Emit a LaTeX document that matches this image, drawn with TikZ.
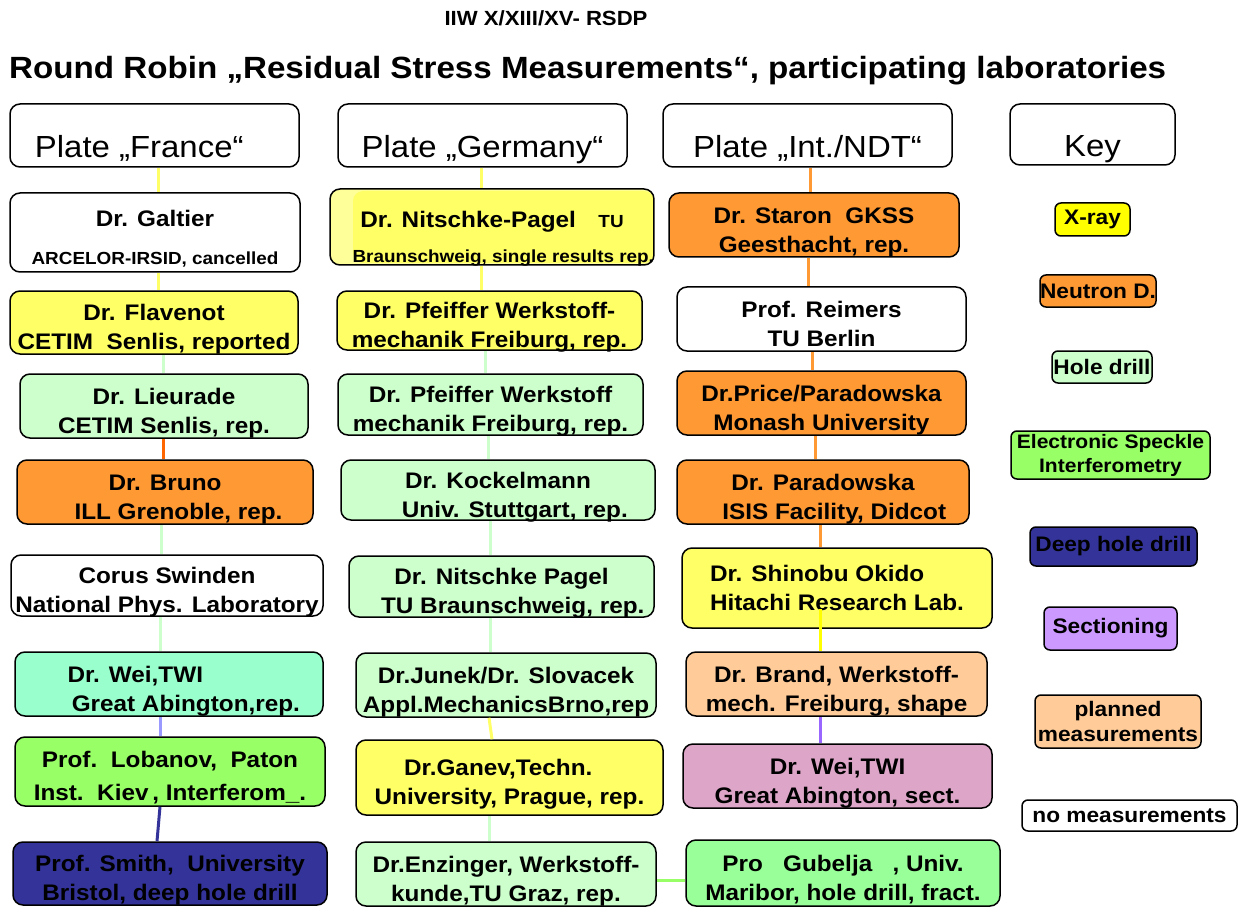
\documentclass[tikz,border=0pt]{standalone}
\usepackage{fontspec}
\setmainfont{Liberation Sans}[FakeStretch=1.08]
\definecolor{cyel}{HTML}{FFFF66}
\definecolor{cxray}{HTML}{FFFF00}
\definecolor{corange}{HTML}{FF9933}
\definecolor{cred}{HTML}{FF6600}
\definecolor{clgreen}{HTML}{CCFFCC}
\definecolor{caqua}{HTML}{99FFCC}
\definecolor{cespi}{HTML}{99FF66}
\definecolor{cdblue}{HTML}{333399}
\definecolor{cpeach}{HTML}{FFCC99}
\definecolor{cgreen}{HTML}{99FF99}
\definecolor{cpurple}{HTML}{CC99FF}
\definecolor{cpink}{HTML}{DDA6C8}
\definecolor{clblue}{HTML}{9999FF}
\definecolor{cviolet}{HTML}{9966FF}
\definecolor{clyel}{HTML}{FFFF99}
\newcommand\sm{\fontsize{17.5}{21}\selectfont}
% lowered multi-line text block: #1 = drop, #2 = column type, #3 = lines
\newcommand\lowtext[3]{\raisebox{-#1}[\height][\depth]{\begin{tabular}{@{}#2@{}}#3\end{tabular}}}
\tikzset{
  box/.style={draw=black, line width=1.5pt, rounded corners=10pt, inner sep=0pt,
    font=\bfseries\fontsize{22.5}{29}\selectfont},
  hdr/.style={draw=black, line width=1.5pt, rounded corners=10pt, inner sep=0pt,
    font=\fontsize{30.5}{34}\selectfont},
  keybox/.style={draw=black, line width=1.5pt, rounded corners=6pt, inner sep=0pt, align=center,
    font=\bfseries\fontsize{21}{27}\selectfont},
  link/.style={line width=3pt},
}
\newcommand\bx[7]{\node[box, fill=#6, minimum width={#4-#2}, minimum height={#5-#3}] (#1) at ({(#2+#4)/2},{(#3+#5)/2}) {\lowtext{7pt}{c}{#7}};}
\newcommand\kx[7]{\node[keybox, fill=#6, minimum width={#4-#2}, minimum height={#5-#3}] (#1) at ({(#2+#4)/2},{(#3+#5)/2}) {#7};}
\begin{document}
\begin{tikzpicture}[x=1pt,y=-1pt]
\useasboundingbox[fill=white] (0,0) rectangle (1247,909);
% titles
\node[font=\bfseries\fontsize{20.5}{24}\selectfont] (t1) at (546,18) {IIW X/XIII/XV- RSDP};
\node[font=\bfseries\fontsize{30.7}{36}\selectfont, anchor=west, inner sep=0pt] (t2) at (9,71) {Round Robin „Residual Stress Measurements“, participating laboratories};
% headers
\node[hdr, minimum width=289, minimum height=63] (hF) at (154.5,135.5) {\raisebox{-22pt}[0pt][0pt]{\hspace*{-1em}Plate „France“}};
\node[hdr, minimum width=289, minimum height=63] (hG) at (482.5,135.5) {\raisebox{-22pt}[0pt][0pt]{Plate „Germany“}};
\node[hdr, minimum width=289, minimum height=63] (hN) at (807.5,135.5) {\raisebox{-22pt}[0pt][0pt]{Plate „Int./NDT“}};
\node[hdr, minimum width=165, minimum height=61] (hK) at (1092.5,134.5) {\raisebox{-22pt}[0pt][0pt]{Key}};
% column France
\bx{galtier}{10}{193}{300}{272}{white}{Dr. Galtier\\[9pt]{\sm ARCELOR-IRSID, cancelled}}
\bx{flav}{10}{291}{298}{354}{cyel}{Dr. Flavenot\\CETIM~~Senlis, reported}
\bx{lieur}{20}{374}{308}{438}{clgreen}{Dr. Lieurade\\CETIM Senlis, rep.}
\bx{bruno}{17}{460}{313}{524}{corange}{Dr. Bruno\\\hspace*{1.2em}ILL Grenoble, rep.}
\bx{corus}{11}{555}{323}{616}{white}{Corus Swinden\\National Phys. Laboratory}
\bx{weiF}{15}{652}{323}{716}{caqua}{Dr. Wei,TWI\hspace*{3em}\\\hspace*{1.5em}Great Abington,rep.}
\bx{lob}{15}{737}{325}{806}{cespi}{Prof.~~Lobanov,~~Paton\\[4pt]Inst.~~Kiev\,, Interferom\_.}
\bx{smith}{13}{842}{327}{905}{cdblue}{Prof. Smith,~~University\\Bristol, deep hole drill}
% column Germany
\node[box, minimum width=320, minimum height=76, fill=clyel,
  path picture={\fill[cyel] ([xshift=23pt,yshift=2pt]path picture bounding box.south west) rectangle ([yshift=-2pt]path picture bounding box.north east);}]
  (nitA) at (492,227) {\lowtext{12pt}{c}{Dr. Nitschke-Pagel\quad{\sm TU}\\[6pt]\hspace*{1em}{\sm Braunschweig, single results rep.}}};
\bx{pfA}{337}{291}{642}{350}{cyel}{Dr. Pfeiffer Werkstoff-\\mechanik Freiburg,~rep.}
\bx{pfB}{338}{374}{643}{435}{clgreen}{Dr. Pfeiffer Werkstoff\\mechanik Freiburg,~rep.}
\bx{kock}{341}{460}{655}{520}{clgreen}{Dr. Kockelmann\\\hspace*{1.5em}Univ. Stuttgart, rep.}
\bx{nitB}{349}{556}{654}{617}{clgreen}{Dr. Nitschke Pagel\\\hspace*{1em}TU Braunschweig, rep.}
\bx{junek}{356}{653}{656}{717}{clgreen}{Dr.Junek/Dr. Slovacek\\Appl.MechanicsBrno,rep}
\bx{ganev}{356}{740}{663}{815}{cyel}{Dr.Ganev,Techn.\hspace*{1em}\\University, Prague, rep.}
\bx{enz}{356}{842}{656}{906}{clgreen}{Dr.Enzinger, Werkstoff-\\kunde,TU Graz, rep.}
% column Int./NDT
\bx{staron}{669}{193}{959}{257}{corange}{Dr. Staron~~GKSS\\Geesthacht, rep.}
\bx{reimers}{677}{287}{966}{351}{white}{Prof. Reimers\\TU Berlin}
\bx{price}{677}{371}{966}{435}{corange}{Dr.Price/Paradowska\\Monash University}
\bx{parad}{677}{460}{969}{524}{corange}{Dr. Paradowska\\\hspace*{1em}ISIS Facility, Didcot}
\node[box, fill=cyel, minimum width=310, minimum height=80] (okido) at (837,588) {\lowtext{2pt}{l}{Dr. Shinobu Okido\\Hitachi Research Lab.}};
\bx{brand}{686}{652}{987}{716}{cpeach}{Dr. Brand, Werkstoff-\\mech. Freiburg, shape}
\bx{weiN}{683}{744}{992}{808}{cpink}{Dr. Wei,TWI\\Great Abington, sect.}
\bx{gub}{686}{840}{1000}{906}{cgreen}{Pro~~~Gubelja~~~, Univ.\\Maribor, hole drill, fract.}
% key
\kx{kxr}{1055}{203}{1130}{236}{cxray}{X-ray}
\kx{kne}{1040}{275}{1156}{307}{corange}{Neutron D.}
\kx{kho}{1052}{351}{1152}{383}{clgreen}{Hole drill}
\node[keybox, fill=cespi, minimum width=199, minimum height=48, font=\bfseries\fontsize{19.5}{24}\selectfont] (kes) at (1110.5,455) {Electronic Speckle\\Interferometry};
\kx{kdh}{1030}{527}{1197}{566}{cdblue}{Deep hole drill}
\kx{kse}{1044}{607}{1177}{650}{cpurple}{Sectioning}
\node[keybox, fill=cpeach, minimum width=166, minimum height=53, font=\bfseries\fontsize{21}{25}\selectfont] (kpl) at (1118,721.5) {planned\\measurements};
\kx{kno}{1022}{800}{1237}{831}{white}{no measurements}
% connectors France
\draw[link, cyel] (hF.south -| 158,0) -- (galtier.north -| 158,0);
\draw[link, cyel] (galtier.south -| 158,0) -- (flav.north -| 158,0);
\draw[link, clgreen] (flav.south -| 163,0) -- (lieur.north -| 163,0);
\draw[link, cred] (lieur.south -| 163,0) -- (bruno.north -| 163,0);
\draw[link, clgreen] (bruno.south -| 161,0) -- (corus.north -| 161,0);
\draw[link, clgreen] (corus.south -| 160,0) -- (weiF.north -| 160,0);
\draw[link, clblue] (weiF.south -| 160,0) -- (lob.north -| 160,0);
\draw[link, cdblue] (lob.south -| 160,0) -- (smith.north -| 157,0);
% connectors Germany
\draw[link, cyel] (hG.south -| 481,0) -- (nitA.north -| 481,0);
\draw[link, cyel] (nitA.south -| 481,0) -- (pfA.north -| 481,0);
\draw[link, clgreen] (pfA.south -| 485,0) -- (pfB.north -| 485,0);
\draw[link, clgreen] (pfB.south -| 488,0) -- (kock.north -| 488,0);
\draw[link, clgreen] (kock.south -| 490,0) -- (nitB.north -| 490,0);
\draw[link, clgreen] (nitB.south -| 490,0) -- (junek.north -| 490,0);
\draw[link, cyel] (junek.south -| 489,0) -- (ganev.north -| 492,0);
\draw[link, clgreen] (ganev.south -| 489,0) -- (enz.north -| 489,0);
\draw[link, cespi] (enz.east |- 0,880) -- (gub.west |- 0,880);
% connectors Int./NDT
\draw[link, corange] (hN.south -| 810,0) -- (staron.north -| 810,0);
\draw[link, corange] (staron.south -| 808,0) -- (reimers.north -| 808,0);
\draw[link, corange] (reimers.south -| 812,0) -- (price.north -| 812,0);
\draw[link, corange] (price.south -| 815,0) -- (parad.north -| 815,0);
\draw[link, corange] (parad.south -| 820,0) -- (okido.north -| 820,0);
\draw[link, cxray] ([yshift=20pt]okido.south -| 820,0) -- (brand.north -| 820,0);
\draw[link, cviolet] (brand.south -| 820,0) -- (weiN.north -| 820,0);
\end{tikzpicture}
\end{document}
